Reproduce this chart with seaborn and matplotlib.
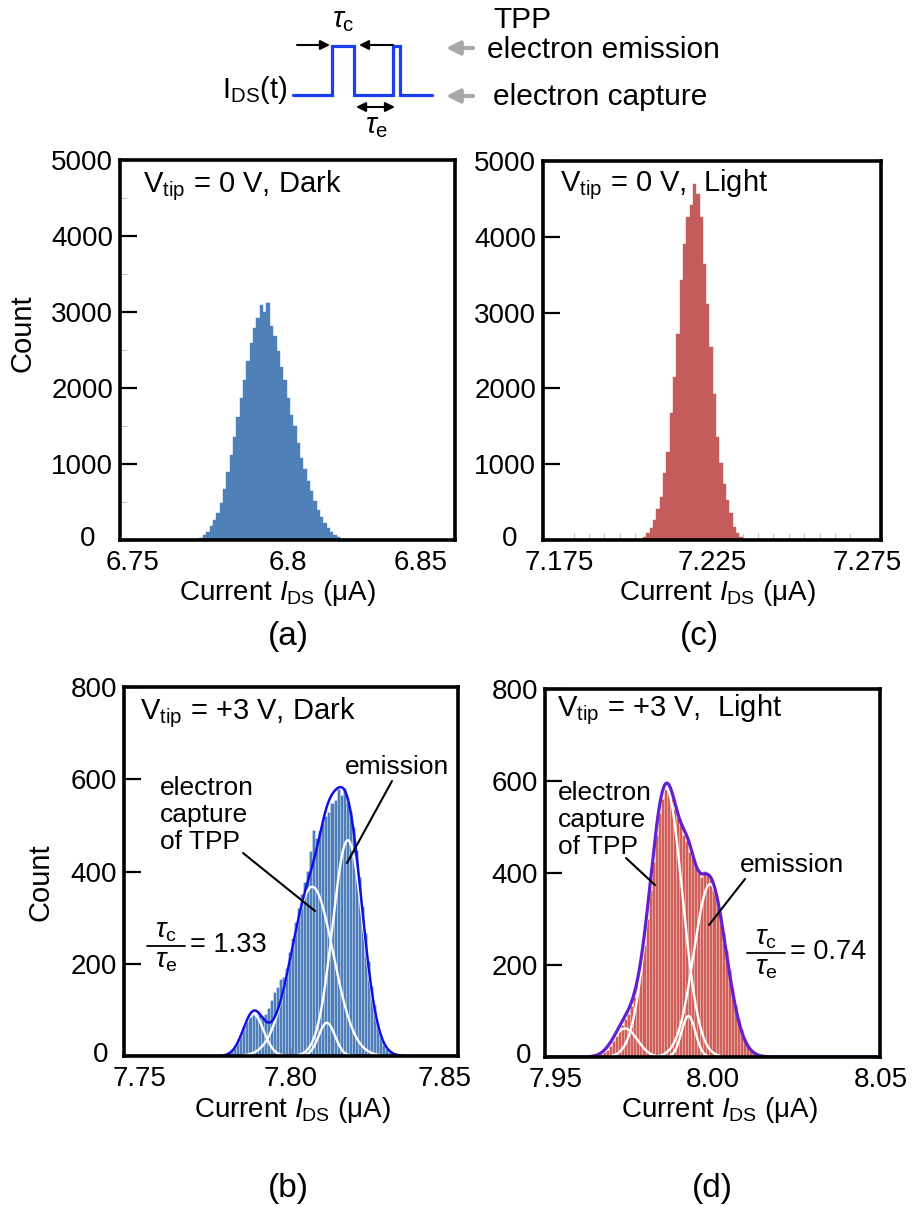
import numpy as np
import pandas as pd
import seaborn as sns
import matplotlib.pyplot as plt
from matplotlib.ticker import MultipleLocator
from matplotlib.transforms import ScaledTranslation

# Histogram counts (bin start / width in uA)
a_start, a_width = 6.770, 0.0011
a_counts = [10, 30, 65, 110, 180, 260, 350, 490, 670, 890,
            1120, 1360, 1620, 1870, 2110, 2350, 2590, 2790, 2920, 3090,
            3000, 3120, 2820, 2680, 2490, 2270, 2100, 1870, 1650, 1500,
            1270, 1080, 930, 780, 640, 515, 400, 300, 230, 160,
            110, 70, 35, 15]

c_start, c_width = 7.2015, 0.00108
c_counts = [13, 45, 90, 155, 265, 415, 570, 880, 1165, 1670,
            2150, 2720, 3425, 3910, 4260, 4420, 4700, 4560, 4260, 3645,
            3120, 2545, 1930, 1360, 1010, 745, 525, 350, 175, 90,
            35, 10]

b_start, b_width = 7.775, 0.001
b_counts = [0, 1, 2, 4, 7, 12, 20, 31, 44, 60,
            74, 84, 90, 92, 88, 86, 90, 104, 122, 138,
            150, 166, 172, 190, 226, 256, 290, 320, 352, 378,
            402, 445, 490, 472, 488, 505, 520, 530, 548, 556,
            578, 565, 582, 550, 532, 496, 446, 388, 326, 266,
            206, 152, 110, 72, 46, 28, 16, 8, 3]

d_start, d_width = 7.960, 0.001
d_counts = [0, 1, 3, 6, 10, 16, 24, 34, 46, 58,
            70, 82, 94, 110, 130, 158, 196, 244, 300, 362,
            424, 482, 530, 560, 588, 575, 560, 540, 520, 505,
            482, 470, 446, 432, 414, 400, 392, 404, 398, 384,
            362, 340, 308, 270, 232, 190, 150, 114, 84, 60,
            40, 26, 15, 8, 4, 2]

# Gaussian fit components (small peak, capture, middle, emission)
b_centers = [7.7876, 7.8070, 7.8118, 7.8187]
b_sigmas = [0.0034, 0.0069, 0.0027, 0.0050]
b_heights = [91, 367, 72, 468]

d_centers = [7.9713, 7.9847, 7.9921, 7.9992]
d_sigmas = [0.0040, 0.0054, 0.0023, 0.0053]
d_heights = [62, 585, 89, 376]

# x tick values / labels per panel
a_ticks, a_labels = [6.75, 6.80, 6.85], ["6.75", "6.8", "6.85"]
c_ticks, c_labels = [7.175, 7.225, 7.275], ["7.175", "7.225", "7.275"]
b_ticks, b_labels = [7.75, 7.80, 7.85], ["7.75", "7.80", "7.85"]
d_ticks, d_labels = [7.95, 8.00, 8.05], ["7.95", "8.00", "8.05"]

# schematic telegraph signal
pulse_t = [0, 2.8, 2.8, 4.4, 4.4, 7.2, 7.2, 7.7, 7.7, 10]
pulse_level = [0, 0, 1, 1, 0, 0, 1, 1, 0, 0]

sns.set_style("white")
plt.rcParams["font.family"] = ["Liberation Sans", "DejaVu Sans"]
plt.rcParams["mathtext.fontset"] = "custom"
plt.rcParams["mathtext.rm"] = "Liberation Sans"
plt.rcParams["mathtext.it"] = "Liberation Sans:italic"
plt.rcParams["mathtext.bf"] = "Liberation Sans:bold"
for key in ["text.color", "axes.labelcolor", "xtick.color", "ytick.color"]:
    plt.rcParams[key] = "black"

W, H = 918, 1232
fig = plt.figure(figsize=(W / 100, H / 100), dpi=100)


def box(l, t, r, b):
    return [l / W, 1 - b / H, (r - l) / W, (b - t) / H]


def nudge(label, dx, dy):
    # shift a tick label by dx, dy pixels
    label.set_transform(label.get_transform() +
                        ScaledTranslation(dx / 100, dy / 100, fig.dpi_scale_trans))


def draw_hist(ax, start, width, counts, color, edge, lw):
    edges = start + width * np.arange(len(counts) + 1)
    df = pd.DataFrame({"current": edges[:-1] + width / 2,
                       "n": np.asarray(counts, dtype=float)})
    sns.histplot(data=df, x="current", weights="n", bins=list(edges), color=color,
                 alpha=1, edgecolor=edge, linewidth=lw, ax=ax)


def draw_fit(ax, centers, sigmas, heights, env_color, env_lw):
    lo, hi = ax.get_xlim()
    x = np.linspace(lo, hi, 800)
    total = np.zeros_like(x)
    for c, s, h in zip(centers, sigmas, heights):
        g = h * np.exp(-0.5 * ((x - c) / s) ** 2)
        total += g
        m = np.abs(x - c) < 3.3 * s
        sns.lineplot(x=x[m], y=g[m], color="white", lw=1.7, estimator=None, ax=ax)
    sns.lineplot(x=x, y=total, color=env_color, lw=env_lw, estimator=None, ax=ax)


def style(ax, mid, ticks, labels, ymax, ystep, title, title_xy, xlab_xy, ylab_xy=None,
          zero_dx=-10, end_dx=(0, 0)):
    ax.set_xlim(mid - 0.055, mid + 0.055)
    ax.set_ylim(0, ymax)
    ax.set_xticks(ticks)
    ax.set_xticklabels(labels)
    ax.set_yticks(np.arange(0, ymax + 1, ystep))
    for sp in ax.spines.values():
        sp.set_visible(True)
        sp.set_linewidth(2.6)
        sp.set_color("black")
    ax.tick_params(axis="both", which="major", direction="in", width=1.6,
                   labelsize=20, color="black", left=True, bottom=True)
    ax.tick_params(axis="y", which="major", length=12, pad=5)
    ax.tick_params(axis="x", which="major", length=6, pad=7)
    xt = ax.xaxis.get_major_ticks()
    xt[0].tick1line.set_visible(False)
    xt[2].tick1line.set_visible(False)
    nudge(xt[0].label1, end_dx[0], 0)
    nudge(xt[2].label1, end_dx[1], 0)
    nudge(ax.yaxis.get_major_ticks()[0].label1, zero_dx, 4)
    ax.set_xlabel("Current $I_\\mathrm{DS}$ (μA)", fontsize=20, va="center")
    ax.xaxis.set_label_coords(*xlab_xy)
    if ylab_xy is not None:
        ax.set_ylabel("Count", fontsize=21, va="center")
        ax.yaxis.set_label_coords(*ylab_xy)
    else:
        ax.set_ylabel("")
    ax.text(title_xy[0], title_xy[1], title, transform=ax.transAxes, fontsize=21,
            ha="left", va="center", zorder=0.5)


# (a) V_tip = 0 V, dark
ax_a = fig.add_axes(box(120, 160, 455, 540))
ax_a.set_xlim(6.745, 6.855)
draw_hist(ax_a, a_start, a_width, a_counts, "#5080b8", "#5080b8", 0.3)
style(ax_a, 6.80, a_ticks, a_labels, 5000, 1000, "V$_\\mathrm{tip}$ = 0 V, Dark",
      (0.069, 0.932), (0.469, -0.139), (-0.29, 0.545), zero_dx=-18, end_dx=(-3, -19))
ax_a.yaxis.set_minor_locator(MultipleLocator(500))
ax_a.tick_params(axis="y", which="minor", direction="in", length=5, width=0.8,
                 color="#c8c8c8", left=True)

# (c) V_tip = 0 V, light
ax_c = fig.add_axes(box(543, 161, 881, 540))
ax_c.set_xlim(7.17, 7.28)
draw_hist(ax_c, c_start, c_width, c_counts, "#c45c5b", "#c45c5b", 0.3)
style(ax_c, 7.225, c_ticks, c_labels, 5000, 1000, "V$_\\mathrm{tip}$ = 0 V,  Light",
      (0.05, 0.937), (0.515, -0.139), zero_dx=-19, end_dx=(1, 2))
ax_c.xaxis.set_minor_locator(MultipleLocator(0.005))
ax_c.tick_params(axis="x", which="minor", direction="in", length=5, width=0.8,
                 color="#c8c8c8", bottom=True)

# (b) V_tip = +3 V, dark
ax_b = fig.add_axes(box(124, 687, 458, 1056))
ax_b.set_xlim(7.745, 7.855)
draw_hist(ax_b, b_start, b_width, b_counts, "#4f7fbb", (1, 1, 1, 0.35), 0.5)
draw_fit(ax_b, b_centers, b_sigmas, b_heights, "#1010e6", 1.8)
style(ax_b, 7.80, b_ticks, b_labels, 800, 200, "V$_\\mathrm{tip}$ = +3 V, Dark",
      (0.048, 0.93), (0.503, -0.146), (-0.251, 0.472), zero_dx=-9, end_dx=(0, 2))

# (d) V_tip = +3 V, light
ax_d = fig.add_axes(box(545, 689, 880, 1057))
ax_d.set_xlim(7.945, 8.055)
draw_hist(ax_d, d_start, d_width, d_counts, "#d15e58", (1, 1, 1, 0.3), 0.5)
draw_fit(ax_d, d_centers, d_sigmas, d_heights, "#6420d0", 2.3)
style(ax_d, 8.00, d_ticks, d_labels, 800, 200, "V$_\\mathrm{tip}$ = +3 V,  Light",
      (0.036, 0.943), (0.522, -0.144), zero_dx=-7, end_dx=(-5, 16))

# overlay in pixel coordinates for schematic and annotations
ov = fig.add_axes([0, 0, 1, 1], zorder=10)
ov.set_xlim(0, W)
ov.set_ylim(H, 0)
ov.axis("off")
ov.patch.set_alpha(0)

wave = fig.add_axes(box(293, 46, 432, 95))
wave.plot(pulse_t, pulse_level, color="#1a3ff0", lw=2.3, clip_on=False,
          solid_joinstyle="miter")
wave.set_xlim(0, 10)
wave.set_ylim(0, 1)
wave.axis("off")

ov.text(287, 90, "I$_\\mathrm{DS}$(t)", ha="right", va="center", fontsize=21)
ov.text(343, 20, r"$\tau_\mathrm{c}$", ha="center", va="center", fontsize=21)
ov.text(377, 126, r"$\tau_\mathrm{e}$", ha="center", va="center", fontsize=21)
arr = dict(arrowstyle="-|>", color="black", lw=1.5, mutation_scale=14, shrinkA=0, shrinkB=0)
ov.annotate("", xy=(330, 45), xytext=(297, 45), arrowprops=arr)
ov.annotate("", xy=(359, 45), xytext=(393, 45), arrowprops=arr)
ov.annotate("", xy=(356, 107), xytext=(395, 107),
            arrowprops=dict(arrowstyle="<|-|>", color="black", lw=1.5,
                            mutation_scale=14, shrinkA=0, shrinkB=0))
grey = dict(arrowstyle="-|>", color="#a9a9a9", lw=3, mutation_scale=20, shrinkA=0, shrinkB=0)
ov.annotate("", xy=(446, 48), xytext=(473, 48), arrowprops=grey)
ov.annotate("", xy=(446, 96), xytext=(473, 96), arrowprops=grey)
ov.text(493, 20, "TPP", ha="left", va="center", fontsize=21.5)
ov.text(487, 50, "electron emission", ha="left", va="center", fontsize=21.5)
ov.text(493, 97, "electron capture", ha="left", va="center", fontsize=21.5)

# panel annotations
for x0, ys in [(160, [788, 815, 842]), (558, [793, 820, 847])]:
    for y0, s in zip(ys, ["electron", "capture", "of TPP"]):
        ov.text(x0, y0, s, ha="left", va="center", fontsize=19)
ov.text(345, 767, "emission", ha="left", va="center", fontsize=19)
ov.text(740, 865, "emission", ha="left", va="center", fontsize=19)
ov.plot([243, 315], [853, 911], color="black", lw=1.5)
ov.plot([392, 347], [781, 863], color="black", lw=1.5)
ov.plot([626, 655], [858, 885], color="black", lw=1.5)
ov.plot([745, 709], [879, 925], color="black", lw=1.5)

# tau_c / tau_e fractions
for xc, ybar, ratio in [(166, 946, "= 1.33"), (766, 953, "= 0.74")]:
    ov.text(xc, ybar - 15, r"$\tau_\mathrm{c}$", ha="center", va="center", fontsize=20)
    ov.text(xc, ybar + 15, r"$\tau_\mathrm{e}$", ha="center", va="center", fontsize=20)
    ov.plot([xc - 19, xc + 19], [ybar, ybar], color="black", lw=1.3)
    ov.text(xc + 24, ybar - 1, ratio, ha="left", va="center", fontsize=19.5)

for x0, y0, s in [(288, 637, "(a)"), (699, 637, "(c)"), (288, 1188, "(b)"), (712, 1188, "(d)")]:
    ov.text(x0, y0, s, ha="center", va="center", fontsize=24)

fig.savefig("out.png", dpi=100)
